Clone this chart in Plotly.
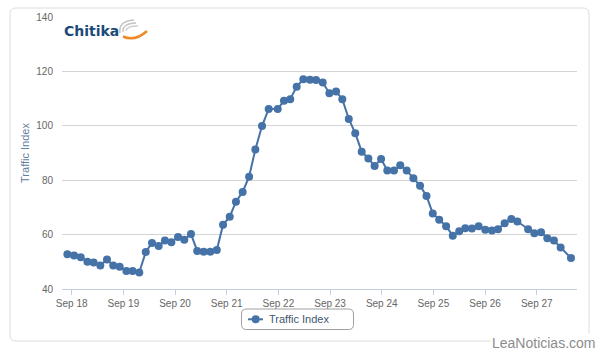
import pandas as pd
import plotly.graph_objects as go

# ---- data ----
base_date = "2012-09-18"
hours_from_sep18 = [
    -2.0, 1.1, 4.2, 7.3, 10.2, 13.3, 16.4, 19.3, 22.3, 25.4, 28.3, 31.4, 34.4, 37.3,
    40.4, 43.3, 46.3, 49.4, 52.3, 55.4, 58.3, 61.3, 64.4, 67.4, 70.3, 73.4, 76.3, 79.4,
    82.4, 85.3, 88.4, 91.5, 95.7, 98.6, 101.5, 104.5, 107.6, 110.7, 113.5, 116.6, 119.7,
    122.8, 125.7, 128.7, 131.7, 134.7, 137.8, 140.7, 143.7, 146.6, 149.7, 152.6, 155.6,
    158.7, 161.8, 164.8, 167.7, 170.7, 173.9, 177.0, 180.0, 182.8, 185.9, 189.0, 192.1,
    195.2, 198.0, 201.1, 204.2, 207.0, 212.0, 214.9, 218.0, 220.9, 224.0, 227.1, 231.9,
]
traffic_index = [
    52.8, 52.3, 51.7, 50.0, 49.7, 48.6, 50.8, 48.6, 48.2, 46.6, 46.6, 46.1, 53.6, 56.9,
    55.8, 57.8, 57.2, 59.1, 58.1, 60.2, 54.0, 53.7, 53.7, 54.3, 63.6, 66.6, 72.1, 75.7,
    81.3, 91.3, 99.9, 106.2, 106.2, 109.2, 109.8, 114.4, 117.1, 116.9, 116.8, 115.9, 112.0,
    112.6, 109.8, 102.5, 97.3, 90.5, 88.0, 85.2, 87.8, 83.6, 83.6, 85.5, 83.6, 80.7,
    78.0, 74.2, 67.8, 65.5, 63.1, 59.6, 61.2, 62.3, 62.2, 63.1, 61.8, 61.5, 62.0,
    64.2, 65.7, 64.8, 62.0, 60.5, 60.9, 58.7, 57.8, 55.3, 51.4,
]
series_name = "Traffic Index"
y_tick_values = [40, 60, 80, 100, 120, 140]

times = pd.Timestamp(base_date) + pd.to_timedelta(hours_from_sep18, unit="h")

# ---- layout geometry ----
W, H = 600, 352
L, R, T, B = 62, 23, 17, 63
PW, PH = W - L - R, H - T - B


def px_x(p):
    return (p - L) / PW


def px_y(p):
    return (T + PH - p) / PH


def rounded_rect(x0, y0, x1, y1, r):
    rx, ry = r / PW, r / PH
    X0, X1 = px_x(x0), px_x(x1)
    Y0, Y1 = px_y(y0), px_y(y1)  # Y0 top, Y1 bottom
    return (f"M {X0+rx},{Y0} L {X1-rx},{Y0} Q {X1},{Y0} {X1},{Y0-ry} "
            f"L {X1},{Y1+ry} Q {X1},{Y1} {X1-rx},{Y1} L {X0+rx},{Y1} "
            f"Q {X0},{Y1} {X0},{Y1+ry} L {X0},{Y0-ry} Q {X0},{Y0} {X0+rx},{Y0} Z")


def ppath(points_cmd):
    out = []
    for tok in points_cmd:
        if isinstance(tok, str):
            out.append(tok)
        else:
            out.append(f"{px_x(tok[0])},{px_y(tok[1])}")
    return " ".join(out)


FONT = "Liberation Sans, Arial, sans-serif"
blue = "#4572A7"

fig = go.Figure()
fig.add_trace(go.Scatter(
    x=times, y=traffic_index, name=series_name, mode="lines+markers",
    line=dict(color=blue, width=2),
    marker=dict(color=blue, size=8, symbol="circle"),
    showlegend=False,
))

start = pd.Timestamp(base_date) - pd.Timedelta(hours=4.5)
end = pd.Timestamp(base_date) + pd.Timedelta(hours=234.7)

LEG_Y = 319.3
shapes = [
    # outer chart frame
    dict(type="path", xref="paper", yref="paper", path=rounded_rect(10, 8, 589, 341, 6),
         line=dict(color="#dcdcdc", width=1), layer="below"),
    # legend box
    dict(type="path", xref="paper", yref="paper", path=rounded_rect(241.5, 309, 353.5, 329.5, 5),
         line=dict(color="#a0a0a0", width=1)),
    # legend symbol: line + marker
    dict(type="line", xref="paper", yref="paper", x0=px_x(248), x1=px_x(263),
         y0=px_y(LEG_Y), y1=px_y(LEG_Y), line=dict(color=blue, width=2)),
    dict(type="circle", xref="paper", yref="paper",
         x0=px_x(251.7), x1=px_x(259.7), y0=px_y(LEG_Y - 4), y1=px_y(LEG_Y + 4),
         fillcolor=blue, line=dict(color=blue, width=0)),
    # logo swoosh (decoration)
    dict(type="path", xref="paper", yref="paper",
         path=ppath(["M", (120, 33), "Q", (118, 21), (134, 20)]),
         line=dict(color="#c4c4c4", width=1.5)),
    dict(type="path", xref="paper", yref="paper",
         path=ppath(["M", (123, 32), "Q", (122, 23.5), (136, 23)]),
         line=dict(color="#c4c4c4", width=1.5)),
    dict(type="path", xref="paper", yref="paper",
         path=ppath(["M", (126, 31), "Q", (126, 26), (138, 26)]),
         line=dict(color="#cfcfcf", width=1.5)),
    dict(type="path", xref="paper", yref="paper",
         path=ppath(["M", (123, 36.5), "Q", (135, 42), (147, 31)]),
         line=dict(color="#ef8a2a", width=2.5)),
]

annotations = [
    dict(text="<b>Chitika</b>", xref="paper", yref="paper", x=px_x(62), y=px_y(31),
         xanchor="left", yanchor="middle", showarrow=False,
         font=dict(family="DejaVu Sans, sans-serif", size=14, color="#1b4a7a")),
    dict(text="LeaNoticias.com", xref="paper", yref="paper", x=px_x(544), y=px_y(342.5),
         xanchor="center", yanchor="middle", showarrow=False, bgcolor="white",
         font=dict(family=FONT, size=14, color="#8c8c8c")),
    dict(text=series_name, xref="paper", yref="paper", x=px_x(266.5), y=px_y(LEG_Y),
         xanchor="left", yanchor="middle", showarrow=False,
         font=dict(family=FONT, size=11, color="#3E576F")),
]

fig.update_layout(
    width=W, height=H,
    margin=dict(l=L, r=R, t=T, b=B),
    paper_bgcolor="white", plot_bgcolor="white",
    font=dict(family=FONT, size=10, color="#666666"),
    xaxis=dict(
        type="date", range=[start, end], tick0=base_date, dtick=86400000,
        tickformat="%b %d", showgrid=False, zeroline=False,
        showline=True, linecolor="#C0D0E0", linewidth=1,
        ticks="outside", ticklen=5, tickcolor="#C0D0E0",
        tickfont=dict(family=FONT, size=10, color="#666666"),
    ),
    yaxis=dict(
        range=[40, 140], tickvals=y_tick_values, showgrid=True, gridcolor="#d4d4d4",
        gridwidth=1, zeroline=False, showline=False,
        ticks="outside", ticklen=6, tickcolor="rgba(0,0,0,0)",
        tickfont=dict(family=FONT, size=10, color="#666666"),
        title=dict(text="Traffic Index", standoff=4,
                   font=dict(family=FONT, size=11, color="#62809f")),
    ),
    shapes=shapes,
    annotations=annotations,
)

fig.write_html("out.html")
